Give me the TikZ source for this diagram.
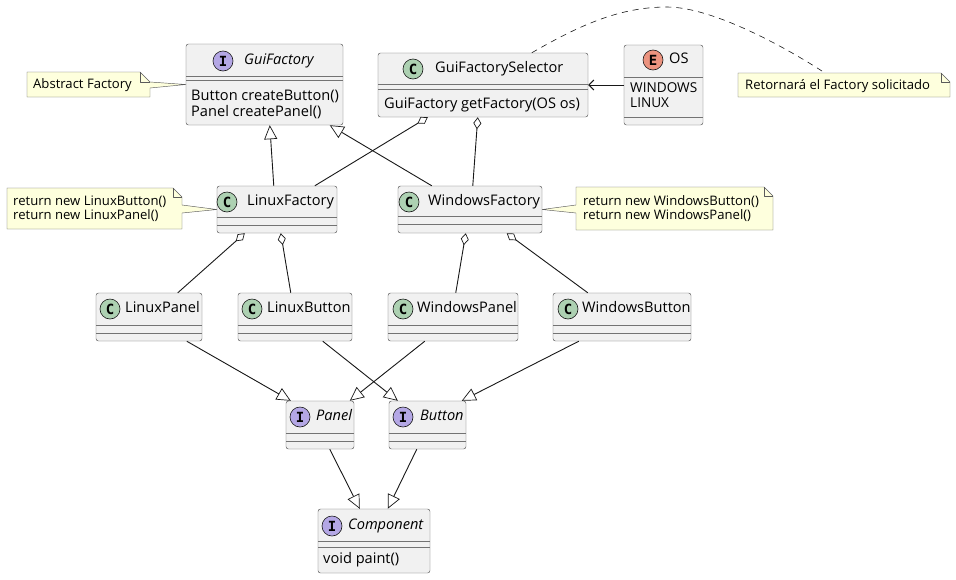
\documentclass[tikz,border=0pt]{standalone}
\usepackage{fontspec}
\setmainfont{Open Sans}
\newfontfamily\iconfont{DejaVu Sans Mono}
\usetikzlibrary{arrows.meta}
\definecolor{boxfill}{HTML}{F1F1F1}
\definecolor{linec}{HTML}{181818}
\definecolor{sepc}{HTML}{5A5A5A}
\definecolor{notefill}{HTML}{FEFFDD}
\definecolor{cgreen}{HTML}{ADD1B2}
\definecolor{ipurple}{HTML}{B4A7E5}
\definecolor{ered}{HTML}{EB937F}
\tikzset{
 clsbox/.style={draw=sepc, fill=boxfill, line width=0.45pt, rounded corners=2.5pt, inner sep=0pt},
 sepline/.style={draw=sepc!85, line width=0.4pt},
 umlicon/.style={circle, draw=linec, line width=0.6pt, minimum size=20pt, inner sep=0pt, font=\iconfont\fontsize{14}{14}\selectfont\bfseries},
 ttl/.style={anchor=mid west, inner sep=0pt, yshift=-1.2pt, font=\fontsize{14.6}{16}\selectfont},
 ittl/.style={anchor=mid west, inner sep=0pt, yshift=-1.2pt, font=\fontsize{14.6}{16}\selectfont\itshape},
 mem/.style={anchor=mid west, inner sep=0pt, yshift=-1.2pt, font=\fontsize{14.6}{16}\selectfont},
 capmem/.style={anchor=mid west, inner sep=0pt, yshift=-1.2pt, font=\fontsize{13.6}{16}\selectfont},
 notetxt/.style={anchor=mid west, inner sep=0pt, yshift=-1.2pt, font=\fontsize{13.1}{14}\selectfont},
 notebox/.style={draw=sepc, fill=notefill, line width=0.45pt, line join=round},
 conn/.style={draw=linec, line width=0.9pt},
 ext/.style={conn, -{Triangle[fill=white, length=14pt, width=13pt, line width=0.7pt]}},
 agg/.style={conn, {Diamond[fill=white, length=12pt, width=8pt, line width=0.7pt]}-},
 dep/.style={conn, -{Straight Barb[length=5pt, width=10pt]}},
}
\newcommand{\umlclass}[7]{%
  \node[clsbox, minimum width={(#4-#2)*1pt}, minimum height={(#5-#3)*1pt}] (#1) at ({(#2+#4)/2},{(#3+#5)/2}) {};
  \draw[sepline] (#2,#6) -- (#4,#6);
  \draw[sepline] (#2,#7) -- (#4,#7);
}
\begin{document}
\begin{tikzpicture}[x=1pt,y=-1pt]
\useasboundingbox[fill=white] (0,0) rectangle (956,579);

% ---------- classes ----------
\umlclass{gf}{186}{44}{343}{125}{76}{80}
\node[umlicon, fill=ipurple] (gfi) at (223,61) {I};
\node[ittl] (gft) at (244,61) {GuiFactory};
\node[mem] (gfm1) at (191,97) {Button createButton()};
\node[mem] (gfm2) at (191,113) {Panel createPanel()};

\umlclass{sel}{378}{53}{588}{117}{84}{89}
\node[umlicon, fill=cgreen] (seli) at (413,69) {C};
\node[ttl] (selt) at (435,69) {GuiFactorySelector};
\node[mem] (selm) at (384,105) {GuiFactory getFactory(OS os)};

\umlclass{os}{624}{45}{703}{125}{77}{117}
\node[umlicon, fill=ered] (osi) at (653,60) {E};
\node[ttl] (ost) at (669,60) {OS};
\node[capmem] (osm1) at (630,89) {WINDOWS};
\node[capmem] (osm2) at (630,104) {LINUX};

\umlclass{lf}{217}{186}{337}{233}{217}{225}
\node[umlicon, fill=cgreen] (lfi) at (227,202) {C};
\node[ttl] (lft) at (247,202) {LinuxFactory};

\umlclass{wf}{398}{186}{542}{233}{216}{224}
\node[umlicon, fill=cgreen] (wfi) at (409,202) {C};
\node[ttl] (wft) at (428,202) {WindowsFactory};

\umlclass{lp}{96}{293}{202}{341}{325}{333}
\node[umlicon, fill=cgreen] (lpi) at (110,309) {C};
\node[ttl] (lpt) at (125,309) {LinuxPanel};

\umlclass{lb}{238}{293}{352}{341}{325}{333}
\node[umlicon, fill=cgreen] (lbi) at (252,309) {C};
\node[ttl] (lbt) at (267,309) {LinuxButton};

\umlclass{wp}{388}{293}{518}{341}{325}{333}
\node[umlicon, fill=cgreen] (wpi) at (403,309) {C};
\node[ttl] (wpt) at (417,309) {WindowsPanel};

\umlclass{wb}{553}{293}{691}{341}{325}{333}
\node[umlicon, fill=cgreen] (wbi) at (568,309) {C};
\node[ttl] (wbt) at (582,309) {WindowsButton};

\umlclass{pn}{286}{401}{354}{449}{433}{441}
\node[umlicon, fill=ipurple] (pni) at (300,417) {I};
\node[ittl] (pnt) at (316,417) {Panel};

\umlclass{bt}{389}{401}{466}{449}{433}{441}
\node[umlicon, fill=ipurple] (bti) at (403,417) {I};
\node[ittl] (btt) at (420,417) {Button};

\umlclass{cp}{318}{509}{430}{573}{541}{547}
\node[umlicon, fill=ipurple] (cpi) at (332,526) {I};
\node[ittl] (cpt) at (348,526) {Component};
\node[mem] (cpm) at (323,560) {void paint()};

% ---------- notes ----------
\draw[notebox] (27,72) -- (140,72) -- (150,82) -- (gf.west) -- (150,88) -- (150,97) -- (27,97) -- cycle;
\draw[notebox, fill=none] (140,72) -- (140,82) -- (150,82);
\node[notetxt] (n1) at (33,85) {Abstract Factory};

\draw[notebox] (738,73) -- (941,73) -- (950,82) -- (950,97) -- (738,97) -- cycle;
\draw[notebox, fill=none] (941,73) -- (941,82) -- (950,82);
\node[notetxt] (n2) at (745,86) {Retornará el Factory solicitado};
\coordinate (n2top) at (825,73);

\draw[notebox] (7,188) -- (173,188) -- (182,197) -- (182,205) -- (lf.west) -- (182,213) -- (182,229) -- (7,229) -- cycle;
\draw[notebox, fill=none] (173,188) -- (173,197) -- (182,197);
\node[notetxt] (n3a) at (13,202) {return new LinuxButton()};
\node[notetxt] (n3b) at (13,216) {return new LinuxPanel()};

\draw[notebox] (576,187) -- (764,187) -- (773,196) -- (773,230) -- (576,230) -- (576,213) -- (wf.east) -- (576,205) -- cycle;
\draw[notebox, fill=none] (764,187) -- (764,196) -- (773,196);
\node[notetxt] (n4a) at (583,202) {return new WindowsButton()};
\node[notetxt] (n4b) at (583,216) {return new WindowsPanel()};

% dashed note link
\draw[conn, line width=0.6pt, dash pattern=on 6pt off 5pt] ([xshift=154pt]sel.north west) .. controls (580,25) and (620,7) .. (667,7) .. controls (714,7) and (790,50) .. (n2top);

% ---------- connectors ----------
\draw[ext] ([xshift=57pt]lf.north west) -- ([xshift=84pt]gf.south west);
\draw[ext] ([xshift=34pt]wf.north west) -- ([xshift=144pt]gf.south west);
\draw[agg] ([xshift=50pt]sel.south west) -- ([xshift=98pt]lf.north west);
\draw[agg] ([xshift=100pt]sel.south west) -- ([xshift=75pt]wf.north west);
\draw[dep] (os.west) -- (sel.east);
\draw[agg] ([xshift=28pt]lf.south west) -- ([xshift=82pt]lp.north west);
\draw[agg] ([xshift=64pt]lf.south west) -- ([xshift=53pt]lb.north west);
\draw[agg] ([xshift=68pt]wf.south west) -- ([xshift=68pt]wp.north west);
\draw[agg] ([xshift=109pt]wf.south west) -- ([xshift=35pt]wb.north west);
\draw[ext] ([xshift=91pt]lp.south west) -- ([xshift=5pt]pn.north west);
\draw[ext] ([xshift=85pt]lb.south west) -- ([xshift=9pt]bt.north west);
\draw[ext] ([xshift=37pt]wp.south west) -- ([xshift=64pt]pn.north west);
\draw[ext] ([xshift=26pt]wb.south west) -- ([xshift=73pt]bt.north west);
\draw[ext] ([xshift=44pt]pn.south west) -- ([xshift=42pt]cp.north west);
\draw[ext] ([xshift=28pt]bt.south west) -- ([xshift=70pt]cp.north west);
\end{tikzpicture}
\end{document}
